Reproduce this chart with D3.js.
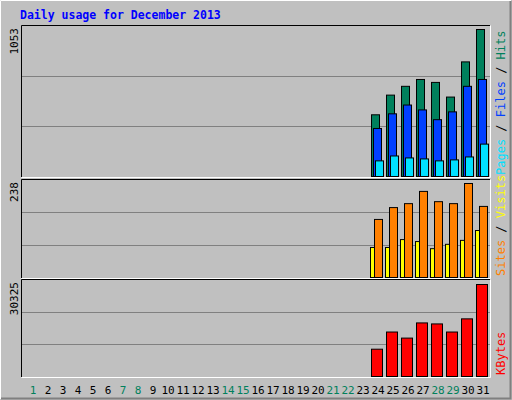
<!DOCTYPE html><html><head><script src="https://cdn.jsdelivr.net/npm/d3@7"></script>
<style>body{margin:0}svg{display:block}text{font-family:"DejaVu Sans Mono",monospace;font-size:11px}</style></head><body>
<script>
const days=d3.range(1,32);
const weekend=[1,7,8,14,15,21,22,28,29];
const hits=[0,0,0,0,0,0,0,0,0,0,0,0,0,0,0,0,0,0,0,0,0,0,0,442,583,646,695,674,569,821,1053];
const files=[0,0,0,0,0,0,0,0,0,0,0,0,0,0,0,0,0,0,0,0,0,0,0,344,449,512,477,407,463,646,695];
const pages=[0,0,0,0,0,0,0,0,0,0,0,0,0,0,0,0,0,0,0,0,0,0,0,112,147,133,126,112,119,140,232];
const visits=[0,0,0,0,0,0,0,0,0,0,0,0,0,0,0,0,0,0,0,0,0,0,0,147,177,187,218,192,187,238,180];
const sites=[0,0,0,0,0,0,0,0,0,0,0,0,0,0,0,0,0,0,0,0,0,0,0,76,76,96,91,73,84,94,119];
const kbytes=[0,0,0,0,0,0,0,0,0,0,0,0,0,0,0,0,0,0,0,0,0,0,0,9000,14660,12660,17660,17330,14660,19000,30325];

const svg=d3.select("body").append("svg").attr("width",512).attr("height",400);
svg.append("rect").attr("width",512).attr("height",400).attr("fill","#c0c0c0");
svg.append("path").attr("d","M0.5,399V0.5H511").attr("stroke","#fff").attr("fill","none");
svg.append("path").attr("d","M1,398.5H510.5V1").attr("stroke","#808080").attr("fill","none").attr("stroke-width",2);
svg.append("text").attr("x",20).attr("y",19).attr("fill","#0000ff").attr("font-weight","bold").style("font-size","11.5px").text("Daily usage for December 2013");

const x=d3.scaleLinear().domain([1,31]).range([33,483]);
const panels=[
 {top:25,bot:177,base:176,peak:29,max:1053,label:"1053",series:[[hits,"#00805c",-7,8],[files,"#0040ff",-5,8],[pages,"#00e0ff",-3,8]],
  legend:[["Pages","#00e0ff"],[" / ","#000"],["Files","#0040ff"],[" / ","#000"],["Hits","#00805c"]]},
 {top:179,bot:278,base:277,peak:183,max:238,label:"238",series:[[visits,"#ff8000",-4,8],[sites,"#ffff00",-8,4]],
  legend:[["Sites","#ff8000"],[" / ","#000"],["Visits","#ffff00"]]},
 {top:279,bot:377,base:376,peak:284,max:30325,label:"30325",series:[[kbytes,"#ff0000",-7,11]],
  legend:[["KBytes","#ff0000"]]}
];
panels.forEach(p=>{
  const y=d3.scaleLinear().domain([0,p.max]).range([p.base,p.peak]);
  const h=p.bot-p.top;
  [1,2].forEach(i=>{const gy=Math.round(p.bot-h*i/3)+0.5;
    svg.append("line").attr("x1",21).attr("x2",490).attr("y1",gy).attr("y2",gy).attr("stroke","#808080");});
  svg.append("path").attr("d",`M21.5,${p.bot}V${p.top+0.5}H490`).attr("stroke","#000").attr("fill","none");
  svg.append("path").attr("d",`M21.5,${p.bot+0.5}H490.5V${p.top+0.5}`).attr("stroke","#fff").attr("fill","none");
  p.series.forEach(([vals,col,dx,w])=>{
    svg.append("g").selectAll("rect").data(days.filter((d,i)=>vals[i]>0)).join("rect")
      .attr("x",d=>Math.round(x(d))+dx+0.5).attr("width",w)
      .attr("y",d=>y(vals[d-1])+0.5).attr("height",d=>p.base-y(vals[d-1]))
      .attr("fill",col).attr("stroke","#000");
  });
  svg.append("text").attr("transform",`translate(18,${p.top+3}) rotate(-90)`).attr("text-anchor","end").attr("fill","#000").text(p.label);
  const t=svg.append("text").attr("transform",`translate(496,${p.bot-2}) rotate(-90)`).attr("dominant-baseline","hanging").style("font-size","12px");
  p.legend.forEach(([s,c])=>t.append("tspan").attr("fill",c).attr("xml:space","preserve").text(s));
});
svg.append("g").selectAll("text").data(days).join("text").attr("x",d=>x(d)).attr("y",394).attr("text-anchor","middle")
 .attr("fill",d=>weekend.includes(d)?"#00805c":"#000").text(d=>d);
</script></body></html>
